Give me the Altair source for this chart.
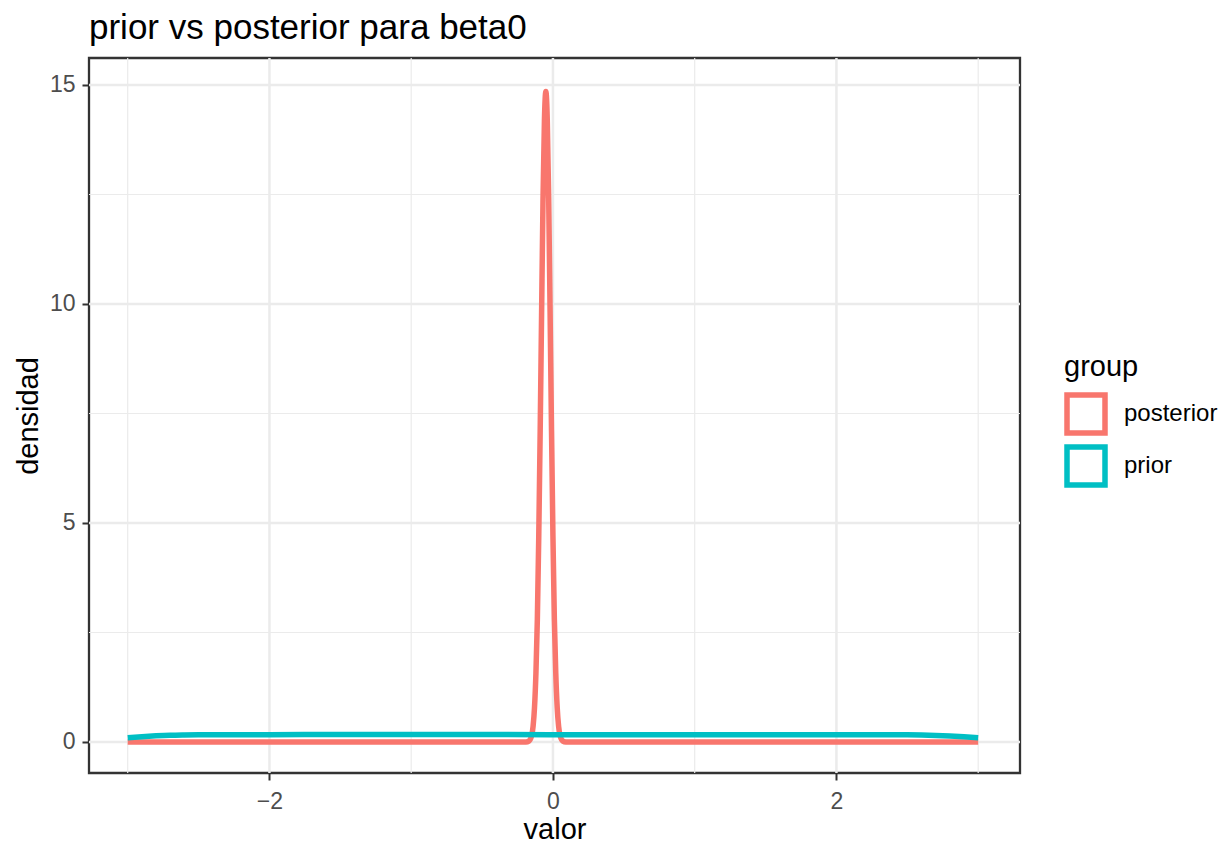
import altair as alt
import pandas as pd

# posterior density curve
post_x = [-3.0, -0.19, -0.17, -0.15, -0.14, -0.13, -0.12, -0.11, -0.10, -0.09, -0.08,
          -0.07, -0.06, -0.05, -0.04, -0.03, -0.02, -0.01, 0.00, 0.01, 0.02, 0.03,
          0.04, 0.05, 0.07, 0.09, 3.0]
post_y = [0.0, 0.0, 0.02, 0.15, 0.36, 0.79, 1.57, 2.8, 4.7, 7.1, 9.8,
          12.4, 14.2, 14.85, 14.2, 12.4, 9.8, 7.1, 4.7, 2.8, 1.57, 0.79,
          0.36, 0.15, 0.02, 0.0, 0.0]

# prior density curve
prior_x = [-3.0, -2.9, -2.8, -2.7, -2.6, -2.5, -2.2, -2.0, -1.5, -1.0, -0.5, 0.0,
           0.5, 1.0, 1.5, 2.0, 2.2, 2.5, 2.6, 2.7, 2.8, 2.9, 3.0]
prior_y = [0.095, 0.12, 0.14, 0.155, 0.162, 0.166, 0.168, 0.168, 0.170, 0.172, 0.171, 0.168,
           0.166, 0.165, 0.165, 0.165, 0.165, 0.163, 0.158, 0.148, 0.135, 0.118, 0.095]

groups = ["posterior", "prior"]
colors = ["#F8766D", "#00BFC4"]

x_major = [-2, 0, 2]
x_minor = [-3, -1, 1, 3]
y_major = [0, 5, 10, 15]
y_minor = [2.5, 7.5, 12.5]

df = pd.concat([
    pd.DataFrame({"valor": post_x, "densidad": post_y, "group": "posterior"}),
    pd.DataFrame({"valor": prior_x, "densidad": prior_y, "group": "prior"}),
], ignore_index=True)

FONT = "Liberation Sans"
xscale = alt.Scale(domain=[-3.273, 3.295], nice=False, zero=False)
yscale = alt.Scale(domain=[-0.708, 15.616], nice=False, zero=False)

xaxis = alt.Axis(values=x_major, title="valor", titleY=65, titleBaseline="alphabetic",
                 labelPadding=10, labelExpr="replace(datum.label, '-', '−')")
yaxis = alt.Axis(values=y_major, title="densidad", titleX=-52, titleY=357.5,
                 titleBaseline="alphabetic")

grid_minor_x = alt.Chart(pd.DataFrame({"v": x_minor})).mark_rule(
    color="#EBEBEB", strokeWidth=1.2).encode(x=alt.X("v:Q", scale=xscale, axis=xaxis))
grid_major_x = alt.Chart(pd.DataFrame({"v": x_major})).mark_rule(
    color="#EBEBEB", strokeWidth=2.5).encode(x=alt.X("v:Q", scale=xscale, axis=xaxis))
grid_minor_y = alt.Chart(pd.DataFrame({"v": y_minor})).mark_rule(
    color="#EBEBEB", strokeWidth=1.2).encode(y=alt.Y("v:Q", scale=yscale, axis=yaxis))
grid_major_y = alt.Chart(pd.DataFrame({"v": y_major})).mark_rule(
    color="#EBEBEB", strokeWidth=2.5).encode(y=alt.Y("v:Q", scale=yscale, axis=yaxis))

lines = alt.Chart(df).mark_line(strokeWidth=5.5, interpolate="monotone").encode(
    x=alt.X("valor:Q", scale=xscale, axis=xaxis),
    y=alt.Y("densidad:Q", scale=yscale, axis=yaxis),
    color=alt.Color("group:N", scale=alt.Scale(domain=groups, range=colors),
                    legend=alt.Legend(title="group", orient="none", legendX=975, legendY=295,
                                      symbolType="square", symbolSize=1444,
                                      symbolStrokeWidth=5.5, symbolFillColor="white",
                                      labelFontSize=24, titleFontSize=29,
                                      labelFont=FONT, titleFont=FONT,
                                      titleFontWeight="normal", labelOffset=16,
                                      rowPadding=-13, titlePadding=10,
                                      labelColor="black", titleColor="black")),
    detail="group:N",
)

chart = alt.layer(grid_minor_x, grid_minor_y, grid_major_x, grid_major_y, lines).properties(
    width=931, height=715,
    title=alt.TitleParams("prior vs posterior para beta0", anchor="start", frame="group",
                          fontSize=35, font=FONT, fontWeight="normal", color="black",
                          offset=11),
    autosize=alt.AutoSizeParams(type="none"),
    padding={"left": 89, "top": 58, "right": 206, "bottom": 71},
).configure_view(stroke="#333333", strokeWidth=2.3).configure_axis(
    domain=False, grid=False, tickColor="#333333", tickWidth=2, tickSize=7,
    labelFont=FONT, labelFontSize=23, labelColor="#4D4D4D", labelPadding=7,
    titleFont=FONT, titleFontSize=29, titleFontWeight="normal", titleColor="black",
)

chart.save("out.html", embed_options={"renderer": "svg", "actions": False})
